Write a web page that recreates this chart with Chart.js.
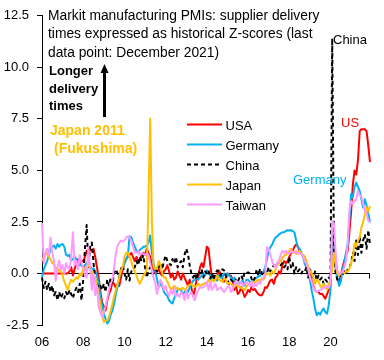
<!DOCTYPE html>
<html>
<head>
<meta charset="utf-8">
<script src="https://cdn.jsdelivr.net/npm/chart.js@4"></script>
<style>
  html, body { margin: 0; padding: 0; background: #fff; }
  #wrap { width: 384px; height: 360px; }
</style>
</head>
<body>
<div id="wrap"><canvas id="myChart" width="384" height="360"></canvas></div>
<script>
const FONT = '"Liberation Sans", Arial, sans-serif';

// monthly categories, Jan 2006 .. Dec 2021
const months = [];
for (let yr = 2006; yr <= 2021; yr++) {
  for (let m = 1; m <= 12; m++) months.push(yr + '-' + String(m).padStart(2, '0'));
}
const yearTicks = ['06', '08', '10', '12', '14', '16', '18', '20'];

const usa = [
  0,0,0,0,0,0,0,0,0,0,0,0,
  0,0,0,0,0.1,0.3,-0.1,0.2,0.5,0.7,0.4,0.6,
  0.6,0.8,1.1,0.9,1.2,1.1,1.2,0.8,0.3,-0.2,-0.9,-1.4,
  -1.6,-1.8,-1.3,-1.0,-0.8,-0.4,-0.5,-0.7,-0.5,-0.6,-0.2,0.2,
  0.5,0.7,0.8,0.9,1.0,0.8,0.6,0.8,0.6,0.7,0.9,1.0,
  0.9,1.2,1.0,0.8,0.4,0.2,0.0,0.1,0.2,0.0,-0.1,0.1,
  0.2,0.4,0.1,-0.2,0.0,-0.3,-0.2,0.1,-0.1,-0.3,0.0,-0.2,
  -0.4,-0.6,-0.3,-0.7,-1.1,-0.8,-0.3,-0.2,0.3,0.5,0.3,0.8,
  1.3,1.2,0.4,-0.2,-0.1,-0.3,-0.1,0.15,0.0,-0.2,-0.4,-0.2,
  0.0,-0.1,-0.1,-0.3,-0.8,-0.6,-1.0,-0.9,-0.66,-0.9,-1.14,-1.0,
  -0.8,-0.9,-0.66,-0.8,-0.75,-0.9,-1.0,-1.06,-1.06,-0.9,-0.66,-0.7,
  -0.5,-0.34,-0.3,-0.5,-0.2,-0.1,0.1,0.0,0.4,0.6,0.5,0.6,
  0.8,1.0,1.1,1.3,1.4,1.3,1.1,0.95,0.85,0.8,0.5,0.3,
  0.0,-0.34,-0.6,-0.82,-0.9,-0.9,-1.0,-0.98,-1.1,-1.22,-1.0,-0.8,
  -0.6,2.2,1.5,0.3,-0.3,-0.4,-0.1,0.3,0.6,0.9,1.1,2.0,
  3.0,4.3,5.0,4.8,5.5,6.9,7.0,7.0,7.0,6.9,6.2,5.4
];
const germany = [
  -0.2,0.2,0.4,0.6,0.9,1.2,1.3,1.35,1.2,1.43,1.3,1.4,
  1.43,1.3,0.9,0.85,0.9,0.63,0.7,0.8,0.7,0.55,0.45,0.39,
  0.3,0.4,0.5,0.3,0.35,0.2,0.25,0.1,-0.1,-0.5,-1.14,-1.5,
  -1.95,-2.2,-2.43,-2.3,-2.0,-1.8,-1.46,-1.0,-0.66,-0.2,0.15,0.3,
  0.47,0.7,0.87,1.8,1.75,1.5,1.3,1.1,1.0,1.15,1.2,1.3,
  1.3,1.35,1.5,1.84,1.0,0.5,0.1,-0.3,-0.65,-0.5,-0.6,-0.9,
  -1.0,-1.1,-1.3,-1.4,-1.46,-1.2,-1.0,-0.8,-0.75,-0.8,-1.0,-0.9,
  -0.8,-0.9,-0.7,-0.5,-0.35,-0.3,-0.2,-0.3,-0.2,-0.1,0.0,-0.1,
  0.15,0.0,-0.1,-0.3,-0.2,-0.2,-0.35,-0.1,-0.2,-0.2,0.0,-0.1,
  0.0,-0.1,-0.2,-0.3,-0.2,-0.4,-0.5,-0.45,-0.4,-0.35,-0.6,-0.3,
  -0.3,-0.4,-0.5,-0.3,-0.25,-0.2,-0.15,-0.1,0.0,0.1,0.3,0.7,
  1.1,1.27,1.4,1.6,1.75,1.8,1.9,1.95,2.0,2.0,2.05,2.1,
  2.08,2.1,2.05,2.0,1.6,1.27,1.2,1.03,0.8,0.47,0.3,0.14,
  -0.3,-0.82,-1.2,-1.7,-2.03,-1.9,-2.0,-1.8,-1.7,-1.87,-1.95,-1.5,
  -0.8,2.3,1.8,0.3,-0.2,-0.6,-0.4,0.2,0.5,1.0,1.43,2.6,
  3.85,3.7,4.2,4.41,4.2,4.0,3.6,3.2,3.6,3.3,2.9,2.48
];
const china = [
  -0.2,-0.7,-0.4,-0.8,-0.5,-0.9,-0.6,-1.06,-0.9,-1.3,-0.9,-1.2,
  -1.0,-1.2,-0.9,-1.1,-0.8,-1.0,-1.2,-0.9,-0.7,-0.9,-0.5,-1.3,
  -0.3,1.2,2.35,0.3,1.27,1.5,0.5,-0.3,-0.5,-0.7,-0.6,-0.8,
  -0.5,-0.9,-0.3,-0.6,-0.2,-0.5,0.0,0.2,0.0,-0.2,0.2,0.4,
  0.0,-0.3,0.2,-0.34,0.1,0.2,0.3,0.6,0.4,0.8,0.6,0.9,
  0.3,-0.2,0.1,0.3,0.0,0.0,0.2,0.1,0.3,0.5,0.2,0.6,
  0.87,0.6,0.5,0.4,0.7,0.5,0.8,0.3,0.5,0.6,0.3,0.9,
  1.2,0.95,0.4,0.0,-0.2,0.0,-0.3,0.1,0.0,0.2,-0.2,0.1,
  0.0,0.15,-0.25,0.0,-0.3,0.0,0.15,0.1,-0.1,0.2,0.15,-0.1,
  -0.3,-0.5,-0.3,-0.4,-0.5,-0.3,-0.4,-0.2,-0.1,-0.3,0.06,0.0,
  0.06,0.0,-0.25,-0.4,-0.2,0.2,-0.1,0.23,0.0,-0.1,0.1,0.0,
  0.3,0.1,0.25,0.4,0.3,0.5,0.55,0.4,0.5,0.3,0.4,0.2,
  0.8,0.3,0.5,0.0,0.3,0.1,0.2,0.0,0.15,0.1,0.3,-0.2,
  0.2,0.0,-0.2,0.1,-0.34,-0.1,-0.3,-0.2,-0.5,-0.3,-0.4,-0.2,
  -0.3,11.4,1.0,0.0,-0.3,-0.2,0.0,-0.1,0.1,0.0,0.2,0.3,
  0.5,1.0,0.6,1.6,0.9,1.8,1.0,1.6,1.9,1.2,2.1,1.4
];
const japan = [
  0.6,0.8,0.9,1.0,0.8,0.7,0.5,0.45,0.3,0.1,0.2,0.1,
  -0.1,-0.4,-0.6,-0.8,-0.5,-0.3,-0.4,-0.3,-0.2,-0.25,0.0,-0.1,
  0.2,0.3,0.1,0.5,0.3,0.1,-0.1,-0.2,-0.6,-1.0,-1.5,-2.0,
  -2.35,-2.3,-2.27,-2.1,-1.8,-1.5,-1.1,-0.8,-0.5,-0.2,0.14,0.3,
  0.8,1.0,1.0,0.8,0.6,0.3,0.1,-0.1,-0.34,-0.5,-0.3,-0.1,
  0.0,0.2,3.5,7.5,2.5,0.3,0.2,0.3,0.6,0.4,0.0,-0.2,
  -0.2,-0.4,-0.6,-0.8,-0.7,-0.6,-0.74,-0.7,-0.8,-0.75,-0.7,-0.8,
  -0.74,-0.6,-0.55,-0.5,-0.6,-0.65,-0.6,-0.5,-0.6,-0.55,-0.5,-0.45,
  -0.5,-0.3,-0.45,-0.3,-0.4,-0.3,-0.1,-0.3,-0.35,-0.4,-0.25,-0.3,
  -0.5,-0.45,-0.5,-0.6,-0.65,-0.55,-0.6,-0.65,-0.7,-0.75,-0.8,-0.66,
  -0.5,-0.5,-0.45,-0.4,-0.45,-0.35,-0.3,-0.35,-0.25,-0.3,-0.1,0.0,
  0.0,-0.1,0.1,0.0,0.2,0.4,0.5,0.6,0.75,0.87,0.9,1.0,
  1.1,1.2,1.0,1.05,0.95,1.0,1.1,0.97,0.9,0.8,0.6,0.3,
  0.14,0.0,-0.18,-0.5,-0.3,-0.4,-0.6,-0.7,-0.5,-0.6,-0.8,-0.5,
  -0.3,0.2,1.0,0.4,0.0,-0.1,0.0,0.1,0.0,0.1,0.1,0.22,
  0.5,0.79,1.45,1.3,1.6,1.75,2.24,2.48,2.88,3.2,3.0,3.28
];
const taiwan = [
  2.45,0.5,1.0,1.2,0.9,1.75,1.0,0.6,-0.34,0.3,0.63,0.2,
  0.4,0.0,0.5,0.3,0.2,0.8,2.0,0.4,0.6,0.2,0.9,0.5,
  0.3,-0.1,-0.2,1.27,0.3,-0.8,0.0,-1.06,-0.6,-1.6,-1.9,-2.1,
  -1.9,-1.6,-1.2,-0.8,-0.5,-0.3,0.3,0.97,1.35,1.5,1.6,1.55,
  1.6,1.75,1.8,1.75,1.6,1.3,1.0,1.0,1.1,0.9,1.0,0.95,
  0.9,0.95,0.9,0.5,0.1,-0.2,-0.5,-1.0,-0.6,-0.3,-0.5,-0.8,
  -0.6,-0.9,-1.1,-0.8,-1.0,-0.7,-1.1,-1.0,-1.14,-0.9,-1.0,-1.3,
  -0.8,-1.22,-1.0,-0.9,-1.1,-1.3,-1.0,-0.8,-0.66,-0.7,-0.66,-0.6,
  -0.4,-0.8,-0.4,-0.8,-0.66,-0.5,-0.8,-0.74,-0.66,-0.8,-0.9,-0.8,
  -0.66,-0.6,-0.9,-0.8,-0.5,-0.35,-0.5,-0.55,-0.4,-0.6,-0.5,-0.4,
  -0.5,-0.6,-0.4,-0.7,-0.5,-0.6,-0.4,-0.5,-0.3,-0.2,0.0,1.27,
  1.2,0.9,0.6,0.4,0.3,0.5,0.63,0.9,1.1,1.0,1.1,1.0,
  0.95,1.1,1.03,1.0,1.1,0.95,1.0,0.95,0.8,0.6,0.47,0.2,
  -0.18,-0.4,-0.66,-0.8,-0.9,-0.85,-0.8,-0.75,-0.66,-0.7,-0.6,-0.7,
  -0.5,2.56,2.4,1.0,0.14,0.0,0.0,0.1,0.3,0.6,1.43,3.04,
  3.5,3.4,3.5,3.6,4.0,3.8,3.7,3.4,3.04,2.9,2.56,2.5
];

const titleLines = [
  'Markit manufacturing PMIs: supplier delivery',
  'times expressed as historical Z-scores (last',
  'data point: December 2021)'
];

function series(label, data, color, order, dash) {
  return {
    label: label,
    data: data,
    borderColor: color,
    backgroundColor: color,
    borderWidth: 2,
    borderDash: dash || [],
    borderJoinStyle: 'round',
    pointRadius: 0,
    tension: 0,
    fill: false,
    order: order
  };
}

// zero line, end tick, notes and the legend box
const overlay = {
  id: 'overlay',
  beforeDatasetsDraw(chart) {
    const { ctx, chartArea, scales: { y } } = chart;
    const y0 = Math.round(y.getPixelForValue(0)) + 0.5;
    ctx.save();
    ctx.strokeStyle = '#000';
    ctx.lineWidth = 1;
    ctx.beginPath();
    ctx.moveTo(chartArea.left, y0);
    ctx.lineTo(chartArea.right, y0);
    ctx.moveTo(chartArea.right - 0.5, y0);
    ctx.lineTo(chartArea.right - 0.5, y0 + 5);
    ctx.stroke();
    ctx.restore();
  },
  afterDraw(chart) {
    const ctx = chart.ctx;
    ctx.save();
    ctx.textAlign = 'left';
    ctx.textBaseline = 'alphabetic';

    ctx.fillStyle = '#000';
    ctx.font = '13.8px ' + FONT;
    titleLines.forEach((t, k) => ctx.fillText(t, 48, 20 + k * 18.3));

    ctx.font = 'bold 13px ' + FONT;
    ['Longer', 'delivery', 'times'].forEach((t, k) => ctx.fillText(t, 49, 75 + k * 17.7));

    // arrow
    ctx.strokeStyle = '#000';
    ctx.lineWidth = 3;
    ctx.beginPath();
    ctx.moveTo(104.5, 117);
    ctx.lineTo(104.5, 71);
    ctx.stroke();
    ctx.beginPath();
    ctx.moveTo(104.5, 64);
    ctx.lineTo(100.5, 73);
    ctx.lineTo(108.5, 73);
    ctx.closePath();
    ctx.fill();

    ctx.fillStyle = '#FFC000';
    ctx.font = 'bold 14px ' + FONT;
    ctx.fillText('Japan 2011', 50, 135);
    ctx.fillText('(Fukushima)', 54, 153);

    ctx.font = '13px ' + FONT;
    ctx.fillStyle = '#000';
    ctx.fillText('China', 333, 44);
    ctx.fillStyle = '#FF0000';
    ctx.fillText('US', 341, 126.5);
    ctx.fillStyle = '#00B0F0';
    ctx.fillText('Germany', 293, 184);

    // legend
    chart.data.datasets.forEach((ds, k) => {
      const ly = 124.5 + k * 20;
      ctx.strokeStyle = ds.borderColor;
      ctx.lineWidth = 2;
      ctx.setLineDash(ds.borderDash);
      ctx.beginPath();
      ctx.moveTo(187, ly);
      ctx.lineTo(222, ly);
      ctx.stroke();
      ctx.setLineDash([]);
      ctx.fillStyle = '#000';
      ctx.fillText(ds.label, 225.5, ly + 5);
    });
    ctx.restore();
  }
};

Chart.defaults.color = '#000';
Chart.defaults.font.family = FONT;

const myChart = new Chart(document.getElementById('myChart'), {
  type: 'line',
  data: {
    labels: months,
    datasets: [
      series('USA', usa, '#FF0000', 4),
      series('Germany', germany, '#00B0F0', 3),
      series('China', china, '#000000', 2, [4, 3]),
      series('Japan', japan, '#FFC000', 1),
      series('Taiwan', taiwan, '#FF99FF', 0)
    ]
  },
  options: {
    responsive: false,
    animation: false,
    devicePixelRatio: 1,
    layout: { padding: { top: 15, right: 14, bottom: 0, left: 0 } },
    plugins: { legend: { display: false }, tooltip: { enabled: false } },
    scales: {
      x: {
        grid: { display: false, drawTicks: false },
        border: { display: false },
        ticks: {
          autoSkip: false,
          maxRotation: 0,
          padding: 10,
          font: { size: 13 },
          callback: (v, i) => (i % 24 === 0 ? yearTicks[i / 24] : '')
        },
        afterFit: (s) => { s.height = 35; }
      },
      y: {
        min: -2.5,
        max: 12.5,
        grid: { drawOnChartArea: false, drawTicks: true, tickLength: 5, color: '#000' },
        border: { display: true, color: '#000', width: 1 },
        ticks: {
          stepSize: 2.5,
          padding: 8,
          font: { size: 13 },
          callback: (v) => v.toFixed(1)
        },
        afterFit: (s) => { s.width = 42; }
      }
    }
  },
  plugins: [overlay]
});
</script>
</body>
</html>
